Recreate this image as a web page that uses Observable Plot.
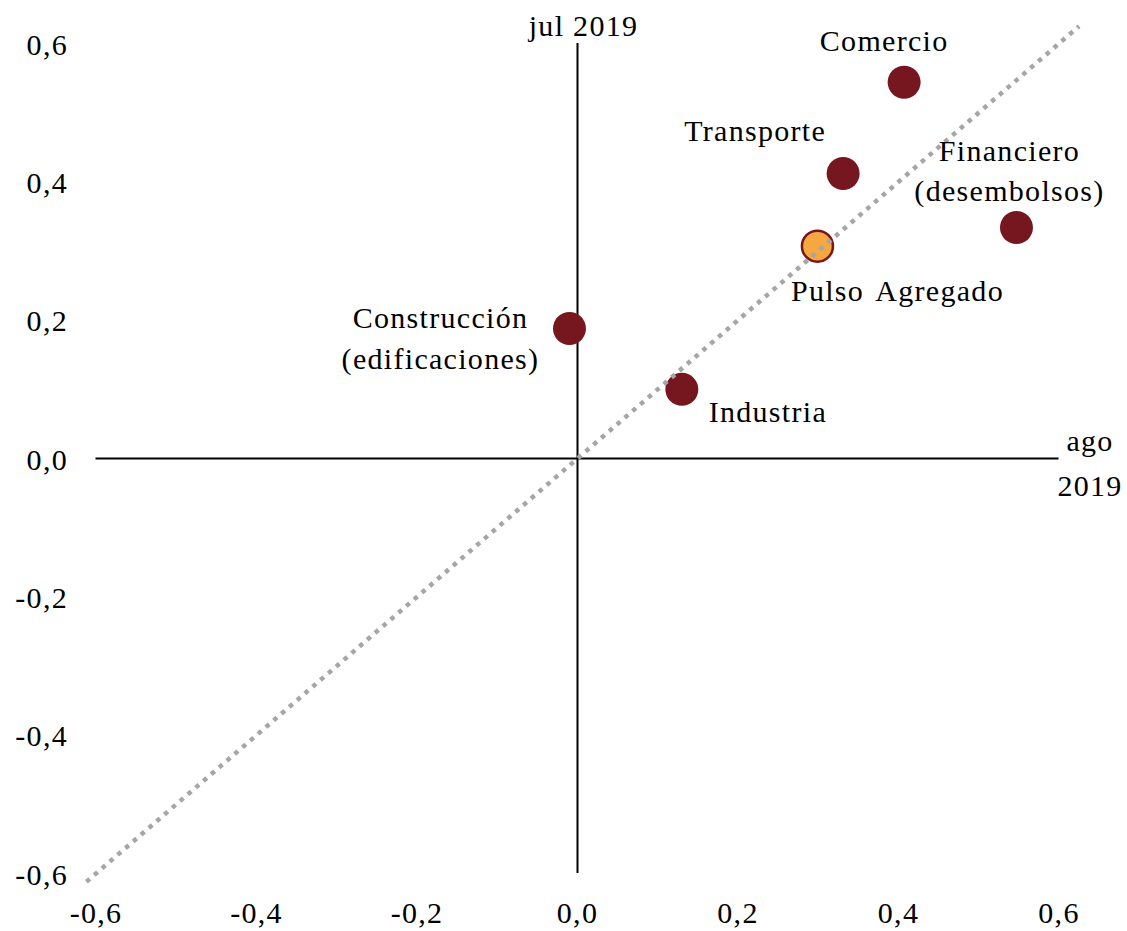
<!DOCTYPE html>
<html>
<head>
<meta charset="utf-8">
<script src="https://cdn.jsdelivr.net/npm/d3@7"></script>
<script src="https://cdn.jsdelivr.net/npm/@observablehq/plot@0.6"></script>
<style>
  html, body { margin: 0; padding: 0; background: #fff; }
  svg text { letter-spacing: 1.3px; }
  svg .wide text { word-spacing: 4px; }
</style>
</head>
<body>
<div id="chart"></div>
<script>
// Data (x = ago 2019, y = jul 2019)
const sectors = ["Comercio", "Transporte", "Financiero\n(desembolsos)", "Pulso Agregado", "Construcción\n(edificaciones)", "Industria"];
const ago2019 = [0.407, 0.331, 0.547, 0.299, -0.010, 0.130];
const jul2019 = [0.544, 0.412, 0.334, 0.307, 0.188, 0.100];
const axisDomain = [-0.6, 0.6];
const tickValues = [-0.6, -0.4, -0.2, 0.0, 0.2, 0.4, 0.6];
const diagonal = [-0.612, 0.625];
const xAxisTitle = "ago\n2019";
const yAxisTitle = "jul 2019";

const data = sectors.map((s, i) => ({name: s, x: ago2019[i], y: jul2019[i]}));
const fmt = d => d.toFixed(1).replace(".", ",");

const RED = "#76161f";
const ORANGE = "#f6a73f";
const FS = 30;

function label(name, dx, dy, lh, cls) {
  return Plot.text(data.filter(d => d.name === name), {
    x: "x", y: "y", text: "name", dx, dy,
    lineAnchor: "middle", textAnchor: "middle",
    lineHeight: lh || 1.33, fill: "#000", fontSize: FS,
    className: cls
  });
}

const chart = Plot.plot({
  width: 1127,
  height: 931,
  marginLeft: 95.5,
  marginRight: 68.5,
  marginTop: 43,
  marginBottom: 58,
  style: {fontFamily: "'Liberation Serif', 'Times New Roman', serif", fontSize: FS + "px", background: "#fff", color: "#000"},
  x: {domain: axisDomain, axis: null},
  y: {domain: axisDomain, axis: null},
  marks: [
    Plot.axisX({ticks: tickValues, tickFormat: fmt, tickSize: 0, tickPadding: 28.5, label: null, fontSize: FS}),
    Plot.axisY({ticks: tickValues, tickFormat: fmt, tickSize: 0, tickPadding: 28, label: null, fontSize: FS, dy: 1.5}),
    Plot.ruleX([0], {stroke: "#000", strokeWidth: 2}),
    Plot.ruleY([0], {stroke: "#000", strokeWidth: 2}),
    Plot.dot(data.filter(d => d.name !== "Pulso Agregado"), {x: "x", y: "y", r: 16.5, fill: RED, stroke: "none"}),
    Plot.dot(data.filter(d => d.name === "Pulso Agregado"), {x: "x", y: "y", r: 15.5, fill: ORANGE, stroke: RED, strokeWidth: 2.5}),
    Plot.line(diagonal.map(v => ({x: v, y: v})), {x: "x", y: "y", stroke: "#a6a6a6", strokeWidth: 4.5, strokeDasharray: "4.5 5.8", strokeLinecap: "butt"}),
    label("Comercio", -20, -44),
    label("Transporte", -88, -45),
    label("Financiero\n(desembolsos)", -7, -59),
    label("Pulso Agregado", 80, 42, 1.33, "wide"),
    label("Construcción\n(edificaciones)", -129, 7, 1.37),
    label("Industria", 86, 20),
    Plot.text([yAxisTitle], {x: 0, frameAnchor: "top", dx: 6, dy: -17.6, textAnchor: "middle", lineAnchor: "middle", fontSize: FS}),
    Plot.text([xAxisTitle], {x: axisDomain[1], y: 0, dx: 31, dy: 1, textAnchor: "middle", lineAnchor: "middle", lineHeight: 1.5, fontSize: FS})
  ]
});
document.getElementById("chart").appendChild(chart);
</script>
</body>
</html>
